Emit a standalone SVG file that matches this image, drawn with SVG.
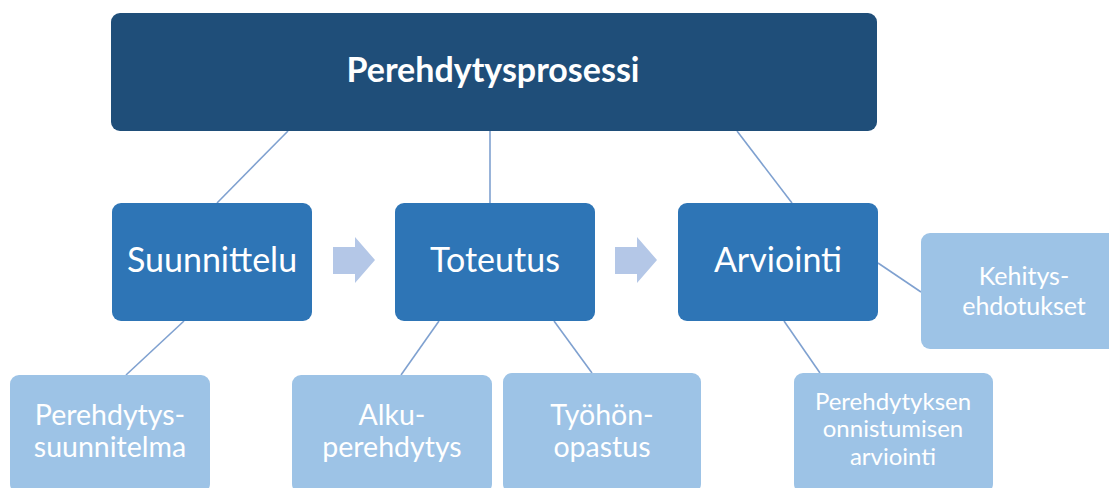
<svg xmlns="http://www.w3.org/2000/svg" width="1109" height="488" viewBox="0 0 1109 488">
<style>
  .top { fill: #1f4e79; }
  .mid { fill: #2e75b6; }
  .leaf { fill: #9dc3e6; }
  .flow { fill: #b4c7e7; }
  .conn { stroke: #7fa1d0; stroke-width: 1.6; fill: none; }
  text { font-family: Lato, "Open Sans", "Liberation Sans", sans-serif; fill: #ffffff; text-anchor: middle; }
  .t-title { font-size: 34px; font-weight: bold; }
  .t-mid { font-size: 34px; }
  .t-leaf { font-size: 28.5px; }
  .t-small { font-size: 25px; }
  .t-tiny { font-size: 24px; }
</style>
<rect width="1109" height="488" fill="#ffffff"/>
<g id="connectors">
  <line class="conn" x1="288" y1="131" x2="217" y2="203"/>
  <line class="conn" x1="490" y1="131" x2="490" y2="203"/>
  <line class="conn" x1="737" y1="131" x2="792" y2="203"/>
  <line class="conn" x1="184" y1="321" x2="126" y2="375"/>
  <line class="conn" x1="439" y1="321" x2="401" y2="375"/>
  <line class="conn" x1="554" y1="321" x2="592" y2="373"/>
  <line class="conn" x1="784" y1="321" x2="820" y2="373"/>
  <line class="conn" x1="878" y1="263" x2="921" y2="292"/>
  <polygon class="flow" points="333,247 355,247 355,237 375,260 355,283 355,274 333,274"/>
  <polygon class="flow" points="615,247 637,247 637,237 657,260 637,283 637,274 615,274"/>
</g>
<g id="node-perehdytysprosessi">
  <rect class="top" x="111" y="13" width="766" height="118" rx="9"/>
  <text class="t-title" x="493" y="82">Perehdytysprosessi</text>
</g>
<g id="node-suunnittelu">
  <rect class="mid" x="112" y="203" width="200" height="118" rx="9"/>
  <text class="t-mid" x="212" y="272">Suunnittelu</text>
</g>
<g id="node-toteutus">
  <rect class="mid" x="395" y="203" width="200" height="118" rx="9"/>
  <text class="t-mid" x="495" y="272">Toteutus</text>
</g>
<g id="node-arviointi">
  <rect class="mid" x="678" y="203" width="200" height="118" rx="9"/>
  <text class="t-mid" x="778" y="272">Arviointi</text>
</g>
<g id="node-kehitysehdotukset">
  <rect class="leaf" x="921" y="233" width="200" height="116" rx="9"/>
  <text class="t-small" x="1024" y="285">Kehitys-</text>
  <text class="t-small" x="1024" y="315">ehdotukset</text>
</g>
<g id="node-perehdytyssuunnitelma">
  <rect class="leaf" x="10" y="375" width="200" height="118" rx="9"/>
  <text class="t-leaf" x="110" y="425">Perehdytys-</text>
  <text class="t-leaf" x="110" y="457">suunnitelma</text>
</g>
<g id="node-alkuperehdytys">
  <rect class="leaf" x="292" y="375" width="200" height="118" rx="9"/>
  <text class="t-leaf" x="392" y="425">Alku-</text>
  <text class="t-leaf" x="392" y="457">perehdytys</text>
</g>
<g id="node-tyohonopastus">
  <rect class="leaf" x="503" y="373" width="198" height="120" rx="9"/>
  <text class="t-leaf" x="602" y="425">Työhön-</text>
  <text class="t-leaf" x="602" y="457">opastus</text>
</g>
<g id="node-onnistumisen-arviointi">
  <rect class="leaf" x="794" y="373" width="199" height="120" rx="9"/>
  <text class="t-tiny" x="893" y="410">Perehdytyksen</text>
  <text class="t-tiny" x="893" y="437">onnistumisen</text>
  <text class="t-tiny" x="893" y="465">arviointi</text>
</g>
</svg>
